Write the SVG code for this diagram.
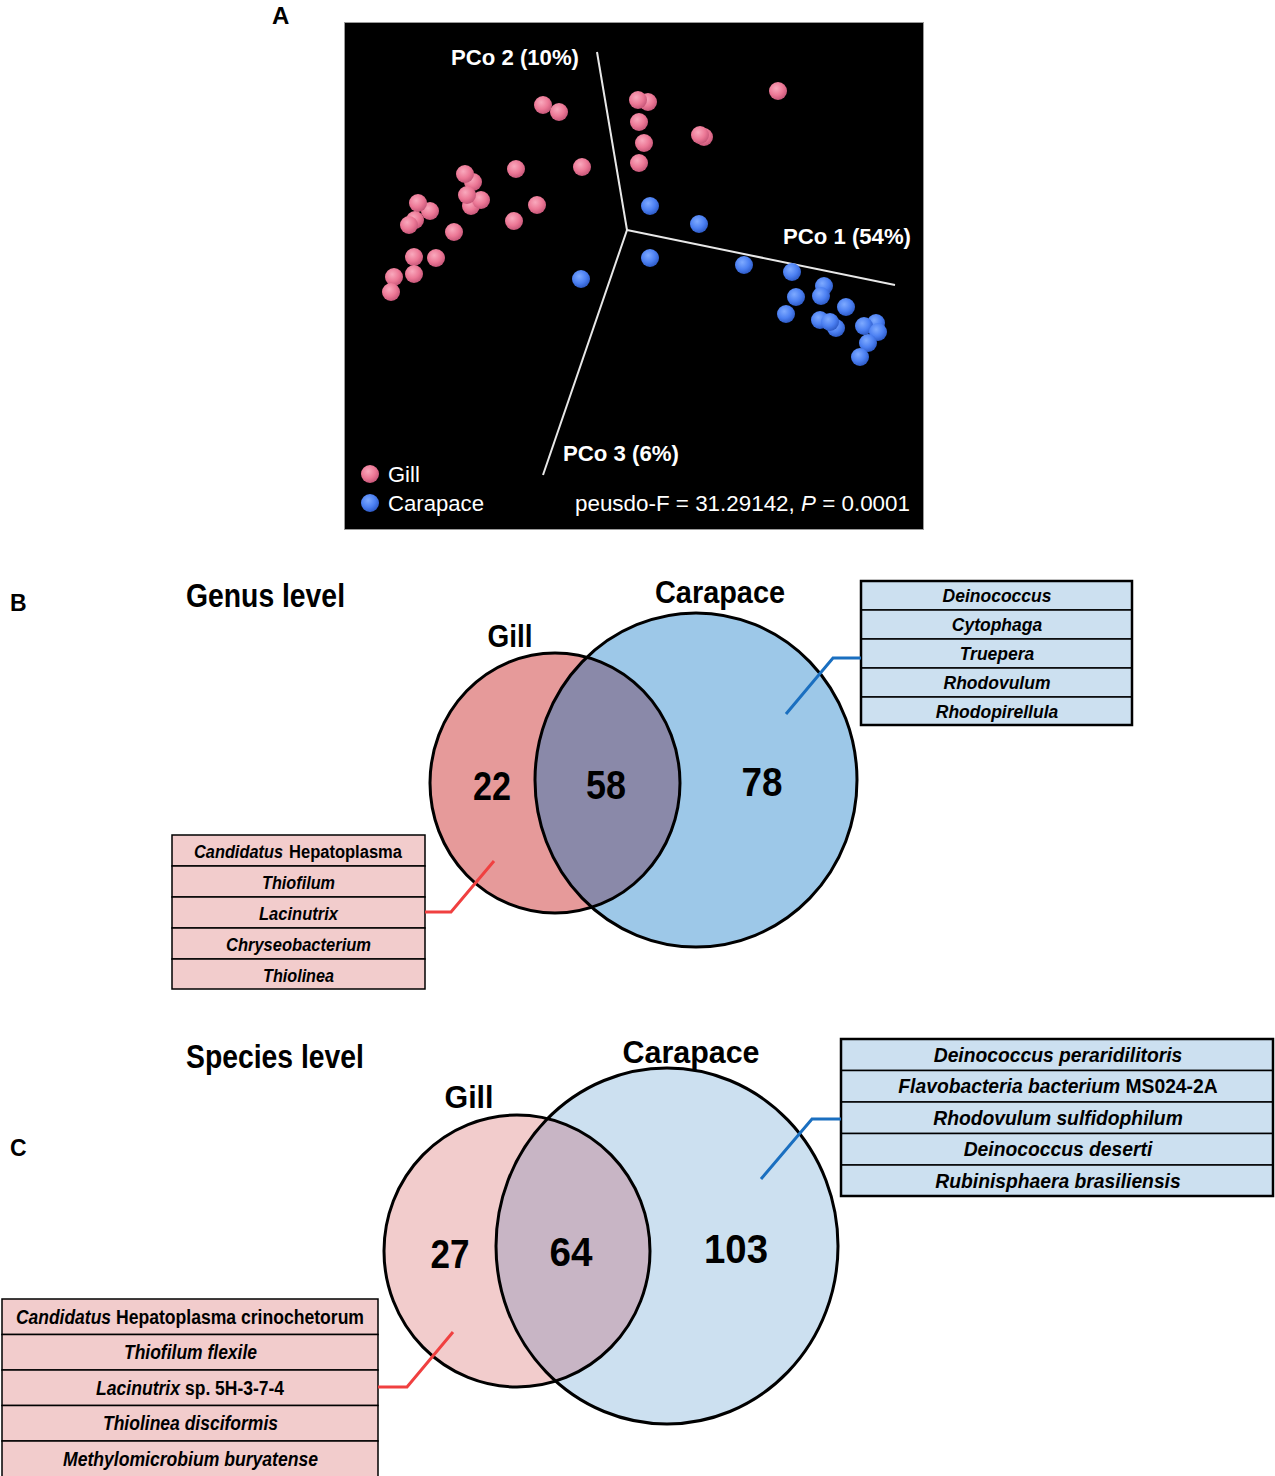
<svg xmlns="http://www.w3.org/2000/svg" width="1275" height="1476" viewBox="0 0 1275 1476">
<style>
.lbl{font-family:"Liberation Sans",Arial,sans-serif;font-weight:bold;fill:#000}
.ax{font-family:"Liberation Sans",Arial,sans-serif;font-weight:bold;font-size:22px;fill:#fff}
.lg{font-family:"Liberation Sans",Arial,sans-serif;font-size:22px;fill:#fff}
.hd{font-family:"Liberation Sans",Arial,sans-serif;font-weight:bold;fill:#000}
.num{font-family:"Liberation Sans",Arial,sans-serif;font-weight:bold;fill:#000;text-anchor:middle}
.tb{font-family:"Liberation Sans",Arial,sans-serif;font-weight:bold;font-style:italic;fill:#000;text-anchor:middle}
.tp{font-family:"Liberation Sans",Arial,sans-serif;font-weight:bold;font-style:italic;fill:#000}
.n{font-style:normal}
.g{fill:url(#pinkBall)}
.c{fill:url(#blueBall)}
.axis{stroke:#e8e8e8;stroke-width:2;fill:none}
.vs{fill:none;stroke:#000;stroke-width:3}
.cellB{fill:#cce0f0;stroke:#000;stroke-width:1.5}
.cellP{fill:#f2cccc;stroke:#000;stroke-width:1.5}
.conB{fill:none;stroke:#1a6fc0;stroke-width:3}
.conR{fill:none;stroke:#f04040;stroke-width:3}
</style>
<defs>
<radialGradient id="pinkBall" cx="0.4" cy="0.35" r="0.65">
<stop offset="0" stop-color="#f9a9bd"/>
<stop offset="0.6" stop-color="#ec7896"/>
<stop offset="1" stop-color="#c8587a"/>
</radialGradient>
<radialGradient id="blueBall" cx="0.4" cy="0.35" r="0.65">
<stop offset="0" stop-color="#7eaaff"/>
<stop offset="0.6" stop-color="#4c80f2"/>
<stop offset="1" stop-color="#2f5cc8"/>
</radialGradient>
<clipPath id="clipGillB"><ellipse cx="555" cy="783" rx="125" ry="130"/></clipPath>
<clipPath id="clipGillC"><ellipse cx="517" cy="1251" rx="133" ry="136"/></clipPath>
</defs>
<rect width="1275" height="1476" fill="#fff"/>

<g id="panel-a">
<text class="lbl" x="272" y="24" font-size="24">A</text>
<rect x="344.5" y="22.5" width="579" height="507" fill="#000" stroke="#9a9a9a" stroke-width="1"/>
<g id="axes">
<line class="axis" x1="597" y1="52" x2="627" y2="230"/>
<line class="axis" x1="627" y1="230" x2="895" y2="285"/>
<line class="axis" x1="627" y1="230" x2="543" y2="475"/>
</g>
<text class="ax" x="451" y="65" textLength="128" lengthAdjust="spacingAndGlyphs">PCo 2 (10%)</text>
<text class="ax" x="783" y="244" textLength="128" lengthAdjust="spacingAndGlyphs">PCo 1 (54%)</text>
<text class="ax" x="563" y="461" textLength="116" lengthAdjust="spacingAndGlyphs">PCo 3 (6%)</text>
<g id="gill-points">
<circle class="g" cx="543" cy="105" r="9"/>
<circle class="g" cx="559" cy="112" r="9"/>
<circle class="g" cx="648" cy="102" r="9"/>
<circle class="g" cx="638" cy="100" r="9"/>
<circle class="g" cx="639" cy="122" r="9"/>
<circle class="g" cx="644" cy="143" r="9"/>
<circle class="g" cx="639" cy="163" r="9"/>
<circle class="g" cx="704" cy="137" r="9"/>
<circle class="g" cx="700" cy="135" r="9"/>
<circle class="g" cx="778" cy="91" r="9"/>
<circle class="g" cx="582" cy="167" r="9"/>
<circle class="g" cx="516" cy="169" r="9"/>
<circle class="g" cx="537" cy="205" r="9"/>
<circle class="g" cx="514" cy="221" r="9"/>
<circle class="g" cx="473" cy="182" r="9"/>
<circle class="g" cx="465" cy="174" r="9"/>
<circle class="g" cx="471" cy="206" r="9"/>
<circle class="g" cx="481" cy="200" r="9"/>
<circle class="g" cx="467" cy="195" r="9"/>
<circle class="g" cx="454" cy="232" r="9"/>
<circle class="g" cx="430" cy="211" r="9"/>
<circle class="g" cx="418" cy="203" r="9"/>
<circle class="g" cx="415" cy="220" r="9"/>
<circle class="g" cx="409" cy="225" r="9"/>
<circle class="g" cx="436" cy="258" r="9"/>
<circle class="g" cx="414" cy="257" r="9"/>
<circle class="g" cx="414" cy="274" r="9"/>
<circle class="g" cx="394" cy="277" r="9"/>
<circle class="g" cx="391" cy="292" r="9"/>
</g>
<g id="carapace-points">
<circle class="c" cx="650" cy="206" r="9"/>
<circle class="c" cx="699" cy="224" r="9"/>
<circle class="c" cx="650" cy="258" r="9"/>
<circle class="c" cx="581" cy="279" r="9"/>
<circle class="c" cx="744" cy="265" r="9"/>
<circle class="c" cx="792" cy="272" r="9"/>
<circle class="c" cx="824" cy="286" r="9"/>
<circle class="c" cx="821" cy="296" r="9"/>
<circle class="c" cx="796" cy="297" r="9"/>
<circle class="c" cx="846" cy="307" r="9"/>
<circle class="c" cx="786" cy="314" r="9"/>
<circle class="c" cx="820" cy="320" r="9"/>
<circle class="c" cx="836" cy="328" r="9"/>
<circle class="c" cx="830" cy="322" r="9"/>
<circle class="c" cx="876" cy="323" r="9"/>
<circle class="c" cx="864" cy="326" r="9"/>
<circle class="c" cx="878" cy="332" r="9"/>
<circle class="c" cx="868" cy="343" r="9"/>
<circle class="c" cx="860" cy="357" r="9"/>
</g>
<g id="legend">
<circle class="g" cx="370" cy="474" r="9"/>
<text class="lg" x="388" y="482">Gill</text>
<circle class="c" cx="370" cy="503" r="9"/>
<text class="lg" x="388" y="511" textLength="96" lengthAdjust="spacingAndGlyphs">Carapace</text>
<text class="lg" x="575" y="511" textLength="335" lengthAdjust="spacingAndGlyphs">peusdo-F = 31.29142, <tspan font-style="italic">P</tspan> = 0.0001</text>
</g>
</g>

<g id="panel-b">
<text class="lbl" x="10" y="611" font-size="23">B</text>
<text class="hd" x="186" y="607" font-size="34" textLength="159" lengthAdjust="spacingAndGlyphs">Genus level</text>
<g id="venn-b">
<ellipse id="gill-b" cx="555" cy="783" rx="125" ry="130" fill="#e69a9a"/>
<ellipse id="carapace-b" cx="696" cy="780" rx="161" ry="167" fill="#9dc8e8"/>
<ellipse cx="696" cy="780" rx="161" ry="167" fill="#8a89a9" clip-path="url(#clipGillB)"/>
<ellipse class="vs" cx="555" cy="783" rx="125" ry="130"/>
<ellipse class="vs" cx="696" cy="780" rx="161" ry="167"/>
<text class="hd" x="510" y="647" font-size="31" text-anchor="middle" textLength="45" lengthAdjust="spacingAndGlyphs">Gill</text>
<text class="hd" x="720" y="603" font-size="31" text-anchor="middle" textLength="130" lengthAdjust="spacingAndGlyphs">Carapace</text>
<text class="num" x="492" y="800" font-size="40" textLength="38" lengthAdjust="spacingAndGlyphs">22</text>
<text class="num" x="606" y="799" font-size="40" textLength="40" lengthAdjust="spacingAndGlyphs">58</text>
<text class="num" x="762" y="796" font-size="40" textLength="41" lengthAdjust="spacingAndGlyphs">78</text>
</g>
<g id="table-b-carapace">
<rect class="cellB" x="861" y="581" width="271" height="29"/>
<rect class="cellB" x="861" y="610" width="271" height="29"/>
<rect class="cellB" x="861" y="639" width="271" height="29"/>
<rect class="cellB" x="861" y="668" width="271" height="29"/>
<rect class="cellB" x="861" y="697" width="271" height="28"/>
<rect x="861" y="581" width="271" height="144" fill="none" stroke="#000" stroke-width="2.5"/>
<text class="tb" x="997" y="602" font-size="17.5">Deinococcus</text>
<text class="tb" x="997" y="631" font-size="17.5">Cytophaga</text>
<text class="tb" x="997" y="660" font-size="17.5">Truepera</text>
<text class="tb" x="997" y="689" font-size="17.5">Rhodovulum</text>
<text class="tb" x="997" y="718" font-size="17.5">Rhodopirellula</text>
</g>
<g id="table-b-gill">
<rect class="cellP" x="172" y="835" width="253" height="31"/>
<rect class="cellP" x="172" y="866" width="253" height="31"/>
<rect class="cellP" x="172" y="897" width="253" height="31"/>
<rect class="cellP" x="172" y="928" width="253" height="31"/>
<rect class="cellP" x="172" y="959" width="253" height="30"/>
<text class="tp" x="194" y="858" font-size="18" textLength="89" lengthAdjust="spacingAndGlyphs">Candidatus</text>
<text class="tp n" x="289" y="858" font-size="18" textLength="113" lengthAdjust="spacingAndGlyphs">Hepatoplasma</text>
<text class="tp" x="262" y="889" font-size="18" textLength="73" lengthAdjust="spacingAndGlyphs">Thiofilum</text>
<text class="tp" x="259" y="920" font-size="18" textLength="79" lengthAdjust="spacingAndGlyphs">Lacinutrix</text>
<text class="tp" x="226" y="951" font-size="18" textLength="145" lengthAdjust="spacingAndGlyphs">Chryseobacterium</text>
<text class="tp" x="263" y="982" font-size="18" textLength="71" lengthAdjust="spacingAndGlyphs">Thiolinea</text>
</g>
</g>

<g id="panel-c">
<text class="lbl" x="10" y="1156" font-size="23">C</text>
<text class="hd" x="186" y="1068" font-size="34" textLength="178" lengthAdjust="spacingAndGlyphs">Species level</text>
<g id="venn-c">
<ellipse id="gill-c" cx="517" cy="1251" rx="133" ry="136" fill="#f2cccc"/>
<ellipse id="carapace-c" cx="667" cy="1246" rx="171" ry="178" fill="#cce0f0"/>
<ellipse cx="667" cy="1246" rx="171" ry="178" fill="#c8b5c5" clip-path="url(#clipGillC)"/>
<ellipse class="vs" cx="517" cy="1251" rx="133" ry="136"/>
<ellipse class="vs" cx="667" cy="1246" rx="171" ry="178"/>
<text class="hd" x="469" y="1108" font-size="31" text-anchor="middle" textLength="49" lengthAdjust="spacingAndGlyphs">Gill</text>
<text class="hd" x="691" y="1063" font-size="31" text-anchor="middle" textLength="137" lengthAdjust="spacingAndGlyphs">Carapace</text>
<text class="num" x="450" y="1268" font-size="40" textLength="39" lengthAdjust="spacingAndGlyphs">27</text>
<text class="num" x="571" y="1266" font-size="40" textLength="43" lengthAdjust="spacingAndGlyphs">64</text>
<text class="num" x="736" y="1263" font-size="40" textLength="64" lengthAdjust="spacingAndGlyphs">103</text>
</g>
<g id="table-c-carapace">
<rect class="cellB" x="841" y="1039" width="432" height="31.5"/>
<rect class="cellB" x="841" y="1070.5" width="432" height="31.5"/>
<rect class="cellB" x="841" y="1102" width="432" height="31.5"/>
<rect class="cellB" x="841" y="1133.5" width="432" height="31.5"/>
<rect class="cellB" x="841" y="1165" width="432" height="31"/>
<rect x="841" y="1039" width="432" height="157" fill="none" stroke="#000" stroke-width="2.5"/>
<text class="tb" x="1058" y="1062" font-size="19.3">Deinococcus peraridilitoris</text>
<text class="tb" x="1058" y="1093" font-size="19.3">Flavobacteria bacterium <tspan class="n">MS024-2A</tspan></text>
<text class="tb" x="1058" y="1125" font-size="19.3">Rhodovulum sulfidophilum</text>
<text class="tb" x="1058" y="1156" font-size="19.3">Deinococcus deserti</text>
<text class="tb" x="1058" y="1188" font-size="19.3">Rubinisphaera brasiliensis</text>
</g>
<g id="table-c-gill">
<rect class="cellP" x="2" y="1299" width="376" height="35.5"/>
<rect class="cellP" x="2" y="1334.5" width="376" height="35.5"/>
<rect class="cellP" x="2" y="1370" width="376" height="35.5"/>
<rect class="cellP" x="2" y="1405.5" width="376" height="35.5"/>
<rect class="cellP" x="2" y="1441" width="376" height="36"/>
<text class="tp" x="16" y="1324" font-size="20" textLength="95" lengthAdjust="spacingAndGlyphs">Candidatus</text>
<text class="tp n" x="116" y="1324" font-size="20" textLength="248" lengthAdjust="spacingAndGlyphs">Hepatoplasma crinochetorum</text>
<text class="tp" x="124" y="1359" font-size="20" textLength="133" lengthAdjust="spacingAndGlyphs">Thiofilum flexile</text>
<text class="tp" x="96" y="1395" font-size="20" textLength="84" lengthAdjust="spacingAndGlyphs">Lacinutrix</text>
<text class="tp n" x="185" y="1395" font-size="20" textLength="99" lengthAdjust="spacingAndGlyphs">sp. 5H-3-7-4</text>
<text class="tp" x="103" y="1430" font-size="20" textLength="175" lengthAdjust="spacingAndGlyphs">Thiolinea disciformis</text>
<text class="tp" x="63" y="1466" font-size="20" textLength="255" lengthAdjust="spacingAndGlyphs">Methylomicrobium buryatense</text>
</g>
</g>

<g id="connectors">
<polyline class="conB" points="786,714 833,658 861,658"/>
<polyline class="conR" points="425,912 451,912 494,861"/>
<polyline class="conB" points="761,1179 812,1119 841,1119"/>
<polyline class="conR" points="378,1387 407,1387 453,1332"/>
</g>
</svg>
